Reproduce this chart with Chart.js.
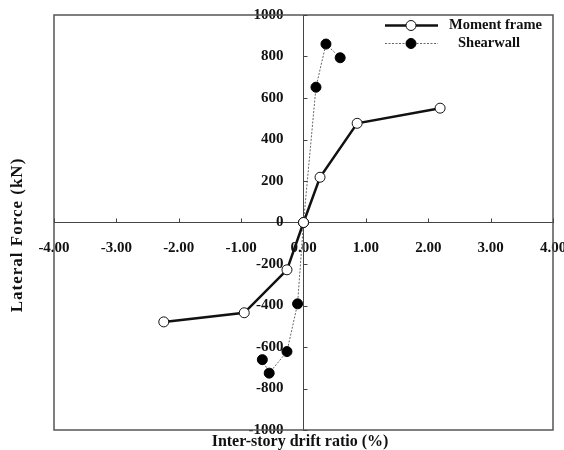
<!DOCTYPE html>
<html>
<head>
<meta charset="utf-8">
<script src="https://cdn.jsdelivr.net/npm/chart.js@4/dist/chart.umd.min.js"></script>
<style>
  html, body { margin: 0; padding: 0; background: #fff; }
  #wrap { width: 564px; height: 450px; }
</style>
</head>
<body>
<div id="wrap"><canvas id="c" width="564" height="450"></canvas></div>
<script>
// ---- data ----
const seriesNames = ['Moment frame', 'Shearwall'];
const driftMF = [-2.24, -0.95, -0.265, 0.0, 0.265, 0.86, 2.19];
const forceMF = [-479, -435, -228, 0, 218, 478, 551];
const driftSW = [-0.66, -0.55, -0.265, -0.095, 0.0, 0.2, 0.36, 0.588];
const forceSW = [-661, -726, -622, -392, 0, 652, 860, 794];
const xTicks = [-4, -3, -2, -1, 0, 1, 2, 3, 4];
const yTicks = [-1000, -800, -600, -400, -200, 0, 200, 400, 600, 800, 1000];
const xTitle = 'Inter-story drift ratio (%)';
const yTitle = 'Lateral Force (kN)';

const FONT = "'Liberation Serif', 'Times New Roman', serif";
const Y_LABEL_GAP = 20;

function toPoints(xs, ys) { return xs.map((x, i) => ({ x: x, y: ys[i] })); }

const decor = {
  id: 'decor',
  beforeDraw(chart) {
    // move the y tick labels away from the centred axis line
    const items = chart.scales.y.getLabelItems();
    if (!items._shifted) {
      items.forEach(it => { it.options.translation[0] -= Y_LABEL_GAP; });
      items._shifted = true;
    }
  },
  afterDraw(chart) {
    const ctx = chart.ctx;
    const a = chart.chartArea;
    const xs = chart.scales.x, ys = chart.scales.y;
    const x0 = xs.getPixelForValue(0), y0 = ys.getPixelForValue(0);
    ctx.save();
    // outer frame
    ctx.strokeStyle = '#555';
    ctx.lineWidth = 1.5;
    ctx.strokeRect(a.left, a.top, a.right - a.left, a.bottom - a.top);
    // inward tick marks
    ctx.lineWidth = 1;
    ctx.strokeStyle = '#444';
    ctx.beginPath();
    xTicks.forEach(v => {
      if (v === 0) return;
      const px = Math.round(xs.getPixelForValue(v)) + 0.5;
      ctx.moveTo(px, y0); ctx.lineTo(px, y0 - 4);
    });
    yTicks.forEach(v => {
      if (v === 0) return;
      const py = Math.round(ys.getPixelForValue(v)) + 0.5;
      ctx.moveTo(x0, py); ctx.lineTo(x0 + 4, py);
    });
    ctx.stroke();
    // axis titles
    ctx.fillStyle = '#111';
    ctx.textAlign = 'center';
    ctx.textBaseline = 'middle';
    ctx.font = 'bold 16px ' + FONT;
    ctx.fillText(xTitle, 300, 442);
    ctx.save();
    ctx.translate(17.5, 235);
    ctx.rotate(-Math.PI / 2);
    ctx.font = 'bold 17px ' + FONT;
    try { ctx.letterSpacing = '1px'; } catch (e) {}
    ctx.fillText(yTitle, 0, 0);
    ctx.restore();
    // legend
    const rows = [
      { ds: chart.data.datasets[0], y: 25.5, tx: 449 },
      { ds: chart.data.datasets[1], y: 43.5, tx: 458 }
    ];
    rows.forEach(r => {
      const ds = r.ds;
      ctx.save();
      ctx.strokeStyle = ds.borderColor;
      ctx.lineWidth = ds.borderWidth;
      ctx.setLineDash(ds.borderDash || []);
      ctx.beginPath();
      ctx.moveTo(385, r.y); ctx.lineTo(438, r.y);
      ctx.stroke();
      ctx.setLineDash([]);
      ctx.beginPath();
      ctx.arc(411, r.y, ds.pointRadius, 0, Math.PI * 2);
      ctx.fillStyle = ds.pointBackgroundColor;
      ctx.fill();
      ctx.lineWidth = ds.pointBorderWidth;
      ctx.strokeStyle = ds.pointBorderColor;
      ctx.stroke();
      ctx.restore();
      ctx.fillStyle = '#111';
      ctx.textAlign = 'left';
      ctx.textBaseline = 'middle';
      ctx.font = 'bold 14.5px ' + FONT;
      ctx.fillText(ds.label, r.tx, r.y);
    });
    ctx.restore();
  }
};

new Chart(document.getElementById('c'), {
  type: 'scatter',
  data: {
    datasets: [
      {
        label: seriesNames[0],
        data: toPoints(driftMF, forceMF),
        showLine: true,
        borderColor: '#111',
        borderWidth: 2.5,
        pointRadius: 5,
        pointBackgroundColor: '#fff',
        pointBorderColor: '#111',
        pointBorderWidth: 1,
        tension: 0
      },
      {
        label: seriesNames[1],
        data: toPoints(driftSW, forceSW),
        showLine: true,
        borderColor: '#666',
        borderWidth: 1,
        borderDash: [2, 1.5],
        pointRadius: 5,
        pointBackgroundColor: '#000',
        pointBorderColor: '#000',
        pointBorderWidth: 1,
        tension: 0
      }
    ]
  },
  options: {
    responsive: false,
    animation: false,
    events: [],
    layout: { padding: { left: 54, right: 11, top: 15, bottom: 20 } },
    plugins: {
      legend: { display: false },
      tooltip: { enabled: false },
      title: { display: false }
    },
    scales: {
      x: {
        type: 'linear',
        position: { y: 0 },
        min: -4, max: 4,
        afterFit(s) { s.paddingLeft = 0; s.paddingRight = 0; },
        afterBuildTicks(s) { s.ticks = xTicks.map(v => ({ value: v })); },
        grid: { display: false, drawTicks: false },
        border: { display: true, color: '#444', width: 1 },
        ticks: {
          padding: 17,
          maxRotation: 0,
          autoSkip: false,
          color: '#111',
          font: { family: FONT, size: 15, weight: 'bold' },
          callback: v => Number(v).toFixed(2)
        }
      },
      y: {
        type: 'linear',
        position: { x: 0 },
        min: -1000, max: 1000,
        afterFit(s) { s.paddingTop = 0; s.paddingBottom = 0; },
        afterBuildTicks(s) { s.ticks = yTicks.map(v => ({ value: v })); },
        grid: { display: false, drawTicks: false },
        border: { display: true, color: '#444', width: 1 },
        ticks: {
          padding: 0,
          autoSkip: false,
          color: '#111',
          font: { family: FONT, size: 15, weight: 'bold' },
          callback: v => String(v)
        }
      }
    }
  },
  plugins: [decor]
});
</script>
</body>
</html>
